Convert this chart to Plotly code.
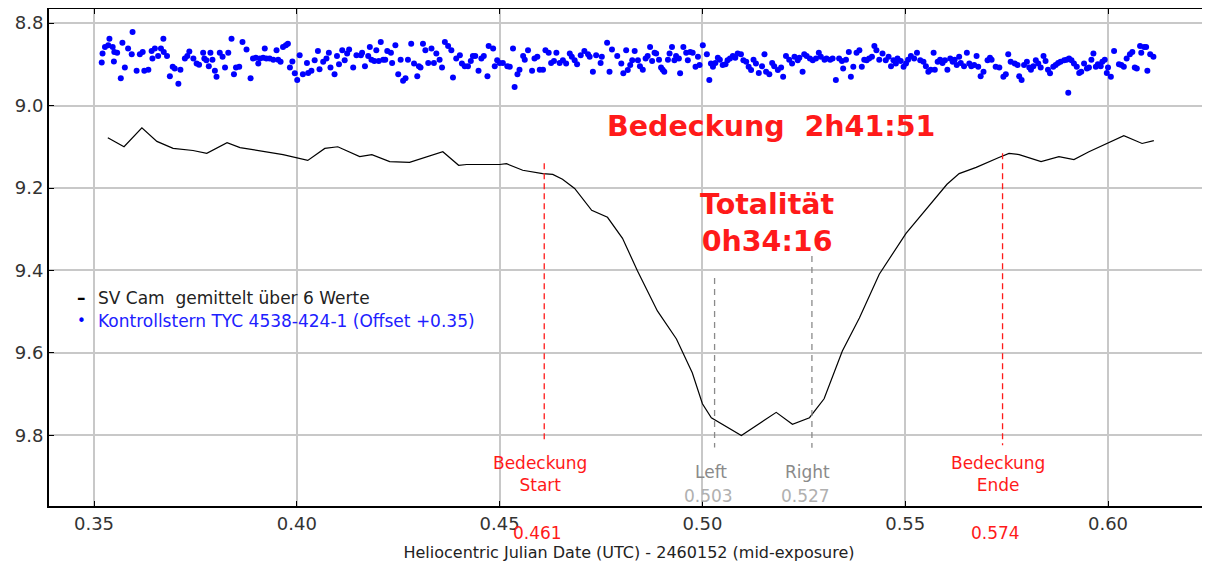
import plotly.graph_objects as go

# ---- SV Cam, averaged over 6 values ----
sv_x = [0.3534, 0.3574, 0.3618, 0.3655, 0.3695, 0.3744, 0.3778, 0.3828, 0.3860, 0.3926,
        0.3966, 0.4027, 0.4069, 0.4101, 0.4155, 0.4185, 0.4229, 0.4278, 0.4315, 0.4360,
        0.4399, 0.4419, 0.4500, 0.4517, 0.4557, 0.4606, 0.4631, 0.4655, 0.4685, 0.4727,
        0.4766, 0.4803, 0.4840, 0.4889, 0.4936, 0.4975, 0.5000, 0.5022, 0.5096, 0.5182,
        0.5222, 0.5264, 0.5300, 0.5345, 0.5387, 0.5436, 0.5502, 0.5552, 0.5603, 0.5633,
        0.5675, 0.5731, 0.5756, 0.5781, 0.5835, 0.5879, 0.5916, 0.5953, 0.5995, 0.6039,
        0.6084, 0.6113]
sv_mag = [9.078, 9.100, 9.054, 9.087, 9.104, 9.109, 9.116, 9.090, 9.102, 9.112,
          9.119, 9.133, 9.104, 9.100, 9.124, 9.119, 9.136, 9.138, 9.126, 9.112,
          9.145, 9.143, 9.143, 9.141, 9.157, 9.165, 9.167, 9.179, 9.201, 9.254,
          9.271, 9.322, 9.401, 9.498, 9.566, 9.648, 9.723, 9.757, 9.800, 9.744,
          9.773, 9.757, 9.711, 9.595, 9.515, 9.409, 9.310, 9.252, 9.191, 9.165,
          9.150, 9.126, 9.116, 9.119, 9.136, 9.124, 9.131, 9.112, 9.092, 9.073,
          9.092, 9.085]

# ---- Check star TYC 4538-424-1, values as plotted (offset +0.35 already applied) ----
ctrl_x = [
    0.3519, 0.3521, 0.3527, 0.3535, 0.3538, 0.3546, 0.3549, 0.3550, 0.3557, 0.3566,
    0.3570, 0.3576, 0.3584, 0.3593, 0.3595, 0.3605, 0.3613, 0.3620, 0.3624, 0.3634,
    0.3642, 0.3644, 0.3650, 0.3658, 0.3665, 0.3671, 0.3672, 0.3680, 0.3687, 0.3694,
    0.3699, 0.3708, 0.3713, 0.3724, 0.3730, 0.3735, 0.3745, 0.3753, 0.3759, 0.3769,
    0.3772, 0.3777, 0.3783, 0.3787, 0.3792, 0.3798, 0.3802, 0.3810, 0.3817, 0.3823,
    0.3831, 0.3839, 0.3845, 0.3850, 0.3858, 0.3866, 0.3876, 0.3886, 0.3892, 0.3899,
    0.3905, 0.3909, 0.3917, 0.3921, 0.3925, 0.3933, 0.3942, 0.3950, 0.3954, 0.3960,
    0.3966, 0.3973, 0.3978, 0.3983, 0.3989, 0.3995, 0.4001, 0.4007, 0.4015, 0.4025,
    0.4028, 0.4036, 0.4044, 0.4052, 0.4056, 0.4065, 0.4073, 0.4079, 0.4083, 0.4093,
    0.4099, 0.4104, 0.4112, 0.4118, 0.4124, 0.4129, 0.4139, 0.4147,
    0.4158, 0.4161, 0.4168, 0.4176, 0.4180, 0.4184, 0.4191, 0.4196, 0.4202, 0.4207,
    0.4213, 0.4218, 0.4223, 0.4232, 0.4235, 0.4243, 0.4250, 0.4256, 0.4262, 0.4268,
    0.4274, 0.4282, 0.4289, 0.4297, 0.4301, 0.4305, 0.4311, 0.4317, 0.4324, 0.4332,
    0.4338, 0.4344, 0.4352, 0.4358, 0.4365, 0.4373, 0.4381, 0.4385, 0.4393, 0.4402,
    0.4407, 0.4414, 0.4422, 0.4429, 0.4434, 0.4440, 0.4448, 0.4455, 0.4461, 0.4470,
    0.4473, 0.4484, 0.4488, 0.4494, 0.4500, 0.4508, 0.4519, 0.4525, 0.4533, 0.4537,
    0.4544, 0.4549, 0.4558, 0.4562, 0.4570, 0.4580, 0.4586, 0.4593, 0.4599, 0.4607,
    0.4613, 0.4621, 0.4627, 0.4634, 0.4640, 0.4648, 0.4656, 0.4664, 0.4673, 0.4678,
    0.4685, 0.4691, 0.4700, 0.4709, 0.4718, 0.4722, 0.4730, 0.4738, 0.4749, 0.4752,
    0.4765, 0.4771, 0.4777, 0.4790, 0.4800,
    0.4805, 0.4812, 0.4816, 0.4822, 0.4827, 0.4833, 0.4841, 0.4846, 0.4853, 0.4860,
    0.4865, 0.4871, 0.4876, 0.4882, 0.4886, 0.4893, 0.4898, 0.4902, 0.4906, 0.4915,
    0.4919, 0.4925, 0.4931, 0.4935, 0.4942, 0.4945, 0.4953, 0.4960, 0.4964, 0.4970,
    0.4976, 0.4983, 0.4989, 0.4993, 0.5001, 0.5011, 0.5017, 0.5021, 0.5026, 0.5032,
    0.5038, 0.5043, 0.5050, 0.5057, 0.5062, 0.5068, 0.5075, 0.5081, 0.5087, 0.5095,
    0.5101, 0.5108, 0.5114, 0.5120, 0.5126, 0.5132, 0.5139, 0.5147, 0.5153, 0.5157,
    0.5165, 0.5172, 0.5177, 0.5186, 0.5194, 0.5199, 0.5206, 0.5214, 0.5221, 0.5227,
    0.5235, 0.5239, 0.5247, 0.5251, 0.5257, 0.5265, 0.5272, 0.5280, 0.5287, 0.5292,
    0.5301, 0.5306, 0.5315, 0.5321, 0.5329, 0.5337, 0.5344, 0.5347, 0.5354, 0.5361,
    0.5366, 0.5372, 0.5380, 0.5387, 0.5393, 0.5399, 0.5405, 0.5411, 0.5418, 0.5424,
    0.5429, 0.5436, 0.5444, 0.5452, 0.5459,
    0.5465, 0.5471, 0.5477, 0.5481, 0.5489, 0.5496, 0.5502, 0.5507, 0.5514, 0.5522,
    0.5529, 0.5537, 0.5545, 0.5551, 0.5557, 0.5563, 0.5570, 0.5573, 0.5580, 0.5586,
    0.5592, 0.5598, 0.5604, 0.5611, 0.5617, 0.5622, 0.5627, 0.5633, 0.5637, 0.5645,
    0.5652, 0.5658, 0.5663, 0.5670, 0.5676, 0.5680, 0.5686, 0.5693, 0.5703, 0.5709,
    0.5713, 0.5723, 0.5732, 0.5742, 0.5748, 0.5754, 0.5760, 0.5770, 0.5777, 0.5781,
    0.5787, 0.5793, 0.5800, 0.5806, 0.5810, 0.5816, 0.5822, 0.5828, 0.5834, 0.5841,
    0.5846, 0.5852, 0.5857, 0.5865, 0.5871, 0.5877, 0.5883, 0.5892, 0.5898, 0.5902,
    0.5904, 0.5910, 0.5916, 0.5923, 0.5929, 0.5934, 0.5941, 0.5948, 0.5953, 0.5959,
    0.5964, 0.5970, 0.5975, 0.5982, 0.5986, 0.5992, 0.5997, 0.6000, 0.6007, 0.6015,
    0.6027, 0.6033, 0.6039, 0.6046, 0.6054, 0.6060, 0.6066, 0.6071, 0.6079, 0.6082,
    0.6089, 0.6094, 0.6097, 0.6104, 0.6112]
ctrl_mag_offset = [
    8.896, 8.874, 8.858, 8.854, 8.838, 8.858, 8.893, 8.870, 8.872, 8.934,
    8.848, 8.908, 8.862, 8.876, 8.822, 8.916, 8.876, 8.870, 8.916, 8.913,
    8.868, 8.886, 8.862, 8.880, 8.862, 8.838, 8.870, 8.880, 8.929, 8.906,
    8.910, 8.947, 8.913, 8.886, 8.880, 8.869, 8.886, 8.898, 8.901, 8.872,
    8.886, 8.890, 8.905, 8.872, 8.889, 8.916, 8.930, 8.872, 8.882, 8.908,
    8.872, 8.838, 8.924, 8.908, 8.906, 8.846, 8.864, 8.934, 8.886, 8.884,
    8.898, 8.886, 8.884, 8.862, 8.886, 8.886, 8.889, 8.866, 8.889, 8.894,
    8.858, 8.854, 8.850, 8.908, 8.893, 8.922, 8.938, 8.878, 8.924, 8.897,
    8.921, 8.916, 8.890, 8.868, 8.912, 8.894, 8.886, 8.872, 8.908, 8.924,
    8.880, 8.900, 8.866, 8.890, 8.874, 8.864, 8.908, 8.878,
    8.878, 8.872, 8.905, 8.880, 8.858, 8.889, 8.892, 8.866, 8.892, 8.846,
    8.889, 8.889, 8.868, 8.872, 8.897, 8.854, 8.924, 8.889, 8.940, 8.934,
    8.889, 8.850, 8.898, 8.929, 8.905, 8.908, 8.850, 8.866, 8.897, 8.862,
    8.897, 8.874, 8.889, 8.908, 8.846, 8.856, 8.866, 8.932, 8.886, 8.878,
    8.898, 8.905, 8.905, 8.892, 8.880, 8.880, 8.916, 8.886, 8.880, 8.929,
    8.856, 8.862, 8.905, 8.890, 8.897, 8.897, 8.905, 8.906, 8.862, 8.955,
    8.924, 8.913, 8.880, 8.889, 8.866, 8.916, 8.886, 8.882, 8.913, 8.913,
    8.866, 8.872, 8.897, 8.892, 8.872, 8.897, 8.890, 8.898, 8.874, 8.882,
    8.890, 8.900, 8.878, 8.868, 8.876, 8.882, 8.918, 8.878, 8.897, 8.882,
    8.848, 8.918, 8.864, 8.880, 8.898,
    8.922, 8.866, 8.914, 8.902, 8.890, 8.868, 8.890, 8.905, 8.913, 8.886,
    8.880, 8.858, 8.892, 8.872, 8.874, 8.889, 8.908, 8.913, 8.918, 8.889,
    8.874, 8.858, 8.890, 8.880, 8.886, 8.922, 8.858, 8.872, 8.890, 8.870,
    8.872, 8.906, 8.882, 8.902, 8.854, 8.876, 8.938, 8.898, 8.906, 8.897,
    8.884, 8.889, 8.902, 8.900, 8.890, 8.886, 8.880, 8.884, 8.874, 8.876,
    8.890, 8.894, 8.906, 8.914, 8.889, 8.898, 8.921, 8.905, 8.876, 8.918,
    8.924, 8.897, 8.905, 8.914, 8.908, 8.930, 8.880, 8.889, 8.898, 8.882,
    8.890, 8.884, 8.918, 8.876, 8.880, 8.886, 8.890, 8.886, 8.872, 8.882,
    8.889, 8.886, 8.889, 8.886, 8.938, 8.886, 8.892, 8.910, 8.889, 8.870,
    8.930, 8.906, 8.872, 8.866, 8.906, 8.889, 8.890, 8.886, 8.882, 8.856,
    8.866, 8.889, 8.874, 8.890, 8.882,
    8.905, 8.890, 8.898, 8.886, 8.892, 8.906, 8.898, 8.889, 8.880, 8.886,
    8.872, 8.890, 8.894, 8.905, 8.918, 8.913, 8.872, 8.913, 8.894, 8.889,
    8.897, 8.890, 8.913, 8.886, 8.894, 8.889, 8.902, 8.882, 8.897, 8.905,
    8.872, 8.898, 8.905, 8.902, 8.880, 8.906, 8.929, 8.918, 8.890, 8.884,
    8.889, 8.906, 8.908, 8.930, 8.924, 8.876, 8.894, 8.898, 8.902, 8.929,
    8.938, 8.902, 8.894, 8.908, 8.913, 8.905, 8.890, 8.898, 8.908, 8.880,
    8.892, 8.913, 8.922, 8.906, 8.902, 8.897, 8.894, 8.890, 8.889, 8.969,
    8.886, 8.890, 8.898, 8.906, 8.921, 8.918, 8.898, 8.910, 8.908, 8.889,
    8.874, 8.906, 8.900, 8.905, 8.894, 8.889, 8.921, 8.908, 8.930, 8.868,
    8.900, 8.902, 8.906, 8.886, 8.876, 8.870, 8.908, 8.910, 8.856, 8.872,
    8.858, 8.858, 8.916, 8.876, 8.882]

# ---- eclipse contact markers ----
event_x = [0.461, 0.503, 0.527, 0.574]
event_top = [9.140, 9.418, 9.365, 9.116]
event_bottom = [9.817, 9.829, 9.830, 9.824]
event_names = ["Bedeckung<br>Start", "Left", "Right", "Bedeckung<br>Ende"]
event_labels = ["0.461", "0.503", "0.527", "0.574"]

FONT = "DejaVu Sans"
RED = "#ff1a1a"

fig = go.Figure()

fig.add_trace(go.Scatter(
    x=ctrl_x, y=ctrl_mag_offset, mode="markers",
    marker=dict(color="#0000ff", size=6, line=dict(width=0)),
    name="Kontrollstern TYC 4538-424-1 (Offset +0.35)", showlegend=False))

fig.add_trace(go.Scatter(
    x=sv_x, y=sv_mag, mode="lines",
    line=dict(color="black", width=1.2),
    name="SV Cam  gemittelt über 6 Werte", showlegend=False))

# event lines
for i, ex in enumerate(event_x):
    is_red = i in (0, 3)
    fig.add_trace(go.Scatter(
        x=[ex, ex], y=[event_top[i], event_bottom[i]], mode="lines",
        line=dict(color=RED if is_red else "#8a8a8a", width=1.3,
                  dash="6px,4px" if is_red else "6px,5px"),
        showlegend=False, hoverinfo="skip"))

ann = []
# big labels
ann.append(dict(x=0.5168, y=9.051, xref="x", yref="y", text="<b>Bedeckung\u00a0\u00a02h41:51</b>",
                showarrow=False, font=dict(family=FONT, size=28.5, color=RED)))
ann.append(dict(x=0.5160, y=9.284, xref="x", yref="y", text="<b>Totalität<br>0h34:16</b>",
                showarrow=False, font=dict(family=FONT, size=28.5, color=RED)))
# event captions
ann.append(dict(x=event_x[0], y=9.894, xref="x", yref="y", text=event_names[0], xshift=-4,
                showarrow=False, font=dict(family=FONT, size=17, color=RED)))
ann.append(dict(x=event_x[3], y=9.894, xref="x", yref="y", text=event_names[3], xshift=-5,
                showarrow=False, font=dict(family=FONT, size=17, color=RED)))
for i in (1, 2):
    ann.append(dict(x=event_x[i], y=9.889, xref="x", yref="y", text=event_names[i], xshift=-4,
                    showarrow=False, font=dict(family=FONT, size=17, color="#8a8a8a")))
    ann.append(dict(x=event_x[i], y=9.947, xref="x", yref="y", text=event_labels[i], xshift=-6,
                    showarrow=False, font=dict(family=FONT, size=17, color="#b0b0b0")))
for i in (0, 3):
    ann.append(dict(x=event_x[i], y=0, xref="x", yref="paper", yanchor="middle", yshift=-27,
                    text=event_labels[i], xshift=-7, showarrow=False,
                    font=dict(family=FONT, size=17, color=RED)))
# legend (drawn as text)
ann.append(dict(x=0.022, y=0.419, xref="paper", yref="paper", text="<b>–</b>", showarrow=False,
                font=dict(family=FONT, size=17, color="black")))
ann.append(dict(x=0.0405, y=0.419, xref="paper", yref="paper", xanchor="left",
                text="SV Cam\u00a0\u00a0gemittelt über 6 Werte", showarrow=False,
                font=dict(family=FONT, size=17, color="#222222")))
ann.append(dict(x=0.022, y=0.373, xref="paper", yref="paper", text="•", showarrow=False,
                font=dict(family=FONT, size=15, color="#0000ff")))
ann.append(dict(x=0.0405, y=0.373, xref="paper", yref="paper", xanchor="left",
                text="Kontrollstern TYC 4538-424-1 (Offset +0.35)", showarrow=False,
                font=dict(family=FONT, size=17, color="#2020ff")))

# The page body has an 8px default margin, so the figure is sized to end at the window edge.
fig.update_layout(
    width=1202, height=558,
    margin=dict(l=41, r=1, t=1, b=60, autoexpand=False),
    paper_bgcolor="white", plot_bgcolor="white",
    font=dict(family=FONT, size=17, color="#333333"),
    annotations=ann,
    showlegend=False,
    xaxis=dict(range=[0.3389, 0.6249], tick0=0.35, dtick=0.05, tickformat=".2f",
               automargin=False, ticklabelstandoff=0,
               showgrid=True, gridcolor="#c8c8c8", gridwidth=1.5, zeroline=False,
               showline=True, linecolor="black", linewidth=2, mirror="ticks",
               ticks="inside", ticklen=5, tickcolor="black",
               tickfont=dict(family=FONT, size=18, color="#333333"),
               title=dict(text="Heliocentric Julian Date (UTC) - 2460152 (mid-exposure)",
                          font=dict(family=FONT, size=16, color="#222222"), standoff=14)),
    yaxis=dict(range=[9.971, 8.766], tick0=8.8, dtick=0.2, tickformat=".1f",
               automargin=False,
               showgrid=True, gridcolor="#c8c8c8", gridwidth=1.5, zeroline=False,
               showline=True, linecolor="black", linewidth=2, mirror="ticks",
               ticks="inside", ticklen=5, tickcolor="black",
               tickfont=dict(family=FONT, size=18, color="#333333")),
)

fig.write_html("out.html")
